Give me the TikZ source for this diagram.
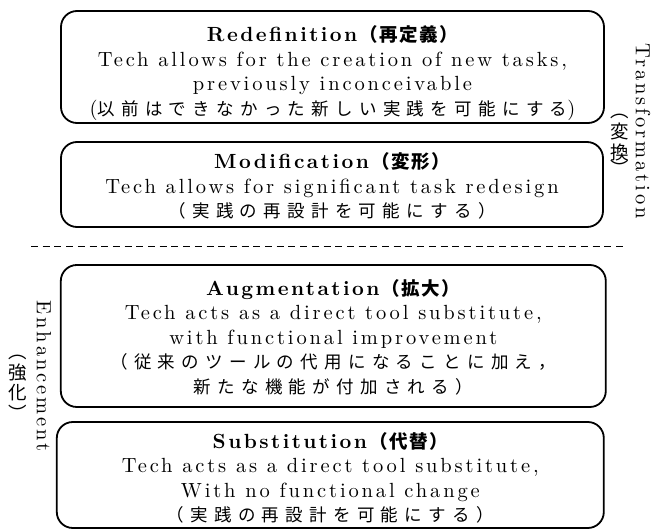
\documentclass[tikz,border=0pt]{standalone}
\usepackage{fontspec}
\setmainfont{lmroman10-regular.otf}[BoldFont=lmroman10-bold.otf, LetterSpace=14, BoldFeatures={LetterSpace=12}]
\newfontfamily\cjk{Noto Sans CJK JP}[LetterSpace=36]
\newfontfamily\cjkt{Noto Sans CJK JP}[LetterSpace=8, BoldFeatures={LetterSpace=8}]
\newfontfamily\cjkn{Noto Sans CJK JP}
\newcommand\jp[1]{{\cjk\fontsize{17.5}{24.5}\selectfont #1}}
\newcommand\jt[1]{{\cjkt\bfseries\fontsize{18.5}{24.5}\selectfont #1}}
\tikzset{
  levelbox/.style={draw, line width=1.8pt, rounded corners=16pt, inner sep=0pt},
  boxtext/.style={align=center, inner sep=0pt, font=\fontsize{20.5}{24.5}\selectfont},
  sepline/.style={line width=1.6pt, dash pattern=on 7pt off 4.7pt},
  sidelabel/.style={rotate=-90, inner sep=0pt, font=\fontsize{20.5}{24.5}\selectfont},
  sidejp/.style={inner sep=0pt, font=\cjkn\fontsize{18.5}{18.5}\selectfont}
}
\begin{document}
\begin{tikzpicture}[x=1pt,y=-1pt]
\useasboundingbox (0,0) rectangle (654,529);
% boxes
\node[levelbox, minimum width=543pt, minimum height=112pt] (r) at (332.5,67) {};
\node[levelbox, minimum width=542pt, minimum height=85pt] (m) at (332,184.5) {};
\node[levelbox, minimum width=545pt, minimum height=142pt] (a) at (333.3,336) {};
\node[levelbox, minimum width=547pt, minimum height=106pt] (s) at (330.3,475) {};
% texts
\node[boxtext] (rt) at ([yshift=-6pt]r.center)
  {\textbf{Redefinition}\jt{（再定義）}\\
   Tech allows for the creation of new tasks,\\
   previously inconceivable\\
   (\jp{以前はできなかった新しい実践を可能にする})};
\node[boxtext] (mt) at ([yshift=-1.5pt]m.center)
  {\textbf{Modification}\jt{（変形）}\\
   Tech allows for significant task redesign\\
   \jp{（実践の再設計を可能にする）}};
\node[boxtext] (at) at ([yshift=-1pt]a.center)
  {\textbf{Augmentation}\jt{（拡大）}\\
   Tech acts as a direct tool substitute,\\
   with functional improvement\\
   \jp{（従来のツールの代用になることに加え，}\\
   \jp{新たな機能が付加される）}};
\node[boxtext] (st) at ([yshift=-3pt]s.center)
  {\textbf{Substitution}\jt{（代替）}\\
   Tech acts as a direct tool substitute,\\
   With no functional change\\
   \jp{（実践の再設計を可能にする）}};
% separator
\coordinate (dl) at (31,246.7);
\coordinate (dr) at (627,246.7);
\draw[sepline] (dl) -- (dr);
% side labels
\node[sidelabel] (tl) at (643,131) {Transformation};
\node[sidejp] (tj1) at (620,116) {︵};
\node[sidejp] (tj2) at (620,132) {変};
\node[sidejp] (tj3) at (620,152) {換};
\node[sidejp] (tj4) at (620,168) {︶};
\node[sidelabel] (el) at (44,376) {Enhancement};
\node[sidejp] (ej1) at (18,357) {︵};
\node[sidejp] (ej2) at (18,373) {強};
\node[sidejp] (ej3) at (18,393) {化};
\node[sidejp] (ej4) at (18,413) {︶};
\end{tikzpicture}
\end{document}
